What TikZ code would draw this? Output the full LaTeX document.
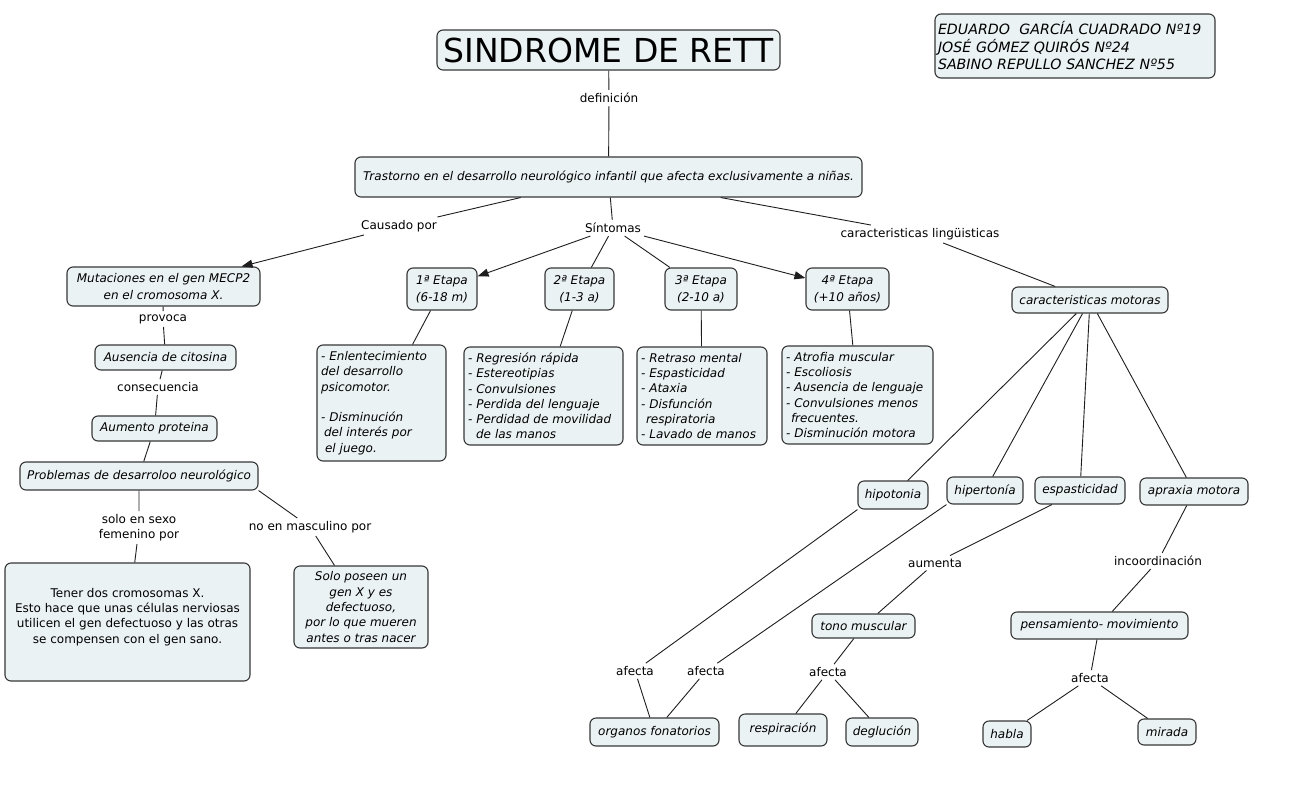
\documentclass[tikz,border=0pt]{standalone}
\usepackage{fontspec}
\setmainfont{DejaVu Sans}
\usetikzlibrary{arrows.meta}
\definecolor{boxfill}{RGB}{235,242,244}
\definecolor{edgecol}{RGB}{55,55,55}
\definecolor{linecol}{RGB}{30,30,30}
\begin{document}
\begin{tikzpicture}[x=1pt,y=-1pt,
  concept/.style={draw=edgecol, line width=1.1pt, rounded corners=6pt, fill=boxfill, align=center, inner sep=2pt, font=\fontsize{12}{16.8}\selectfont\itshape},
  listbox/.style={concept, align=left, inner sep=4pt, font=\fontsize{12}{15.3}\selectfont\itshape},
  linktext/.style={inner sep=3pt, align=center, font=\fontsize{12}{15}\selectfont},
  conn/.style={draw=linecol, line width=0.9pt},
  arr/.style={conn, -{Triangle[length=11pt,width=8pt]}},
]
\useasboundingbox[fill=white] (0,0) rectangle (1294,793);

% ---- concepts ----
\node[concept, minimum width=343pt, minimum height=40pt, font=\fontsize{33}{36}\selectfont] (title) at (608.5,50) {SINDROME DE RETT};
\node[concept, minimum width=280pt, minimum height=64pt, align=left, inner sep=3pt, text width=274pt, font=\fontsize{14.2}{17.5}\selectfont\itshape] (authors) at (1075,46) {EDUARDO\ \ GARCÍA CUADRADO Nº19\\JOSÉ GÓMEZ QUIRÓS Nº24\\SABINO REPULLO SANCHEZ Nº55};
\node[concept, minimum width=507pt, minimum height=40pt] (trast) at (608.5,177) {Trastorno en el desarrollo neurológico infantil que afecta exclusivamente a niñas.};

\node[concept, minimum width=193pt, minimum height=39pt] (mecp2) at (163.5,286.5) {Mutaciones en el gen MECP2\\en el cromosoma X.};
\node[concept, minimum width=141pt, minimum height=25pt] (ausencia) at (165.5,357.5) {Ausencia de citosina};
\node[concept, minimum width=125pt, minimum height=25pt] (aumento) at (154.5,428.5) {Aumento proteina};
\node[concept, minimum width=238pt, minimum height=28pt] (problemas) at (139,476) {Problemas de desarroloo neurológico};
\node[concept, minimum width=245pt, minimum height=118pt, font=\fontsize{12}{15.3}\selectfont] (tener) at (127.5,622) {Tener dos cromosomas X.\\Esto hace que unas células nerviosas\\utilicen el gen defectuoso y las otras\\se compensen con el gen sano.\rule[-13pt]{0pt}{0pt}};
\node[concept, minimum width=134pt, minimum height=82pt, font=\fontsize{12}{15.3}\selectfont\itshape] (solo) at (361,607) {Solo poseen un\\gen X y es\\defectuoso,\\por lo que mueren\\antes o tras nacer};

\node[concept, minimum width=70pt, minimum height=42pt] (et1) at (442,289) {1ª Etapa\\(6-18 m)};
\node[concept, minimum width=69pt, minimum height=42pt] (et2) at (579.5,289) {2ª Etapa\\(1-3 a)};
\node[concept, minimum width=72pt, minimum height=42pt] (et3) at (701,289) {3ª Etapa\\(2-10 a)};
\node[concept, minimum width=83pt, minimum height=42pt] (et4) at (847.5,289) {4ª Etapa\\(+10 años)};

\node[listbox, text width=121pt, minimum height=116pt] (list1) at (381.5,403) {- Enlentecimiento\\del desarrollo\\psicomotor.\\[15.3pt]- Disminución\\\hspace*{3pt}del interés por\\\hspace*{4pt}el juego.};
\node[listbox, text width=151pt, minimum height=98pt] (list2) at (543.5,396) {- Regresión rápida\\- Estereotipias\\- Convulsiones\\- Perdida del lenguaje\\- Perdidad de movilidad\\\hspace*{8pt}de las manos};
\node[listbox, text width=122pt, minimum height=98pt] (list3) at (702,396) {- Retraso mental\\- Espasticidad\\- Ataxia\\- Disfunción\\\hspace*{5pt}respiratoria\\- Lavado de manos};
\node[listbox, text width=143pt, minimum height=98pt] (list4) at (857.5,395) {- Atrofia muscular\\- Escoliosis\\- Ausencia de lenguaje\\- Convulsiones menos\\\hspace*{5pt}frecuentes.\\- Disminución motora};

\node[concept, minimum width=156pt, minimum height=26pt] (motoras) at (1090,300) {caracteristicas motoras};
\node[concept, minimum width=70pt, minimum height=28pt] (hipo) at (893,495) {hipotonia};
\node[concept, minimum width=76pt, minimum height=27pt] (hiper) at (985,490.5) {hipertonía};
\node[concept, minimum width=90pt, minimum height=27pt] (espas) at (1080,490.5) {espasticidad};
\node[concept, minimum width=108pt, minimum height=27pt] (apraxia) at (1194,491.5) {apraxia motora};
\node[concept, minimum width=129pt, minimum height=28pt] (organos) at (654.5,732) {organos fonatorios};
\node[concept, minimum width=103pt, minimum height=24pt] (tono) at (863.5,626) {tono muscular};
\node[concept, minimum width=88pt, minimum height=32pt] (resp) at (783,730) {respiración\rule[-4pt]{0pt}{0pt}};
\node[concept, minimum width=72pt, minimum height=28pt] (deglu) at (882,732) {deglución};
\node[concept, minimum width=177pt, minimum height=27pt] (pens) at (1099.5,625.5) {pensamiento- movimiento};
\node[concept, minimum width=48pt, minimum height=26pt] (habla) at (1007,734) {habla};
\node[concept, minimum width=58pt, minimum height=26pt] (mirada) at (1167,732) {mirada};

% ---- link labels ----
\node[linktext] (ldef) at (609,98) {definición};
\node[linktext] (lcaus) at (399,226) {Causado por};
\node[linktext] (lsint) at (613,228) {Síntomas};
\node[linktext] (lling) at (920,234) {caracteristicas lingüisticas};
\node[linktext] (lprov) at (163,319) {provoca};
\node[linktext] (lcons) at (158,387) {consecuencia};
\node[linktext] (lsexo) at (139,527.5) {solo en sexo\\femenino por};
\node[linktext] (lmasc) at (310,527) {no en masculino por};
\node[linktext] (laf1) at (635,671) {afecta};
\node[linktext] (laf2) at (706,671) {afecta};
\node[linktext] (laum) at (935,563) {aumenta};
\node[linktext] (laf3) at (828,672) {afecta};
\node[linktext] (linco) at (1158,561) {incoordinación};
\node[linktext] (laf4) at (1090,678) {afecta};

% ---- connectors ----
\draw[conn] (title) -- (ldef) -- (trast);
\draw[conn] (trast) -- (lcaus);
\draw[arr] (lcaus) -- (mecp2);
\draw[conn] (trast) -- (lsint);
\draw[arr] (lsint) -- (et1);
\draw[conn] (lsint) -- (et2);
\draw[conn] (lsint) -- (et3);
\draw[arr] (lsint) -- (et4);
\draw[conn] (trast) -- (lling) -- (motoras);

\draw[conn] (mecp2) -- (lprov) -- (ausencia);
\draw[conn] (ausencia) -- (lcons) -- (aumento);
\draw[conn] (aumento) -- (problemas);
\draw[conn] (problemas) -- (lsexo) -- (tener);
\draw[conn] (problemas.south east) -- (lmasc) -- (solo);

\draw[conn] (et1) -- (list1);
\draw[conn] (et2) -- (list2);
\draw[conn] (et3) -- (list3);
\draw[conn] (et4) -- (list4);

\draw[conn] (motoras) -- (hipo);
\draw[conn] (motoras) -- (hiper);
\draw[conn] (motoras) -- (espas);
\draw[conn] (motoras) -- (apraxia);

\draw[conn] (hipo.south west) -- (laf1) -- (organos);
\draw[conn] (hiper.south west) -- (laf2) -- (organos);
\draw[conn] (espas) -- (laum) -- (tono);
\draw[conn] (tono) -- (laf3) -- (resp);
\draw[conn] (laf3) -- (deglu);
\draw[conn] (apraxia) -- (linco) -- (pens);
\draw[conn] (pens) -- (laf4) -- (habla);
\draw[conn] (laf4) -- (mirada);
\end{tikzpicture}
\end{document}
